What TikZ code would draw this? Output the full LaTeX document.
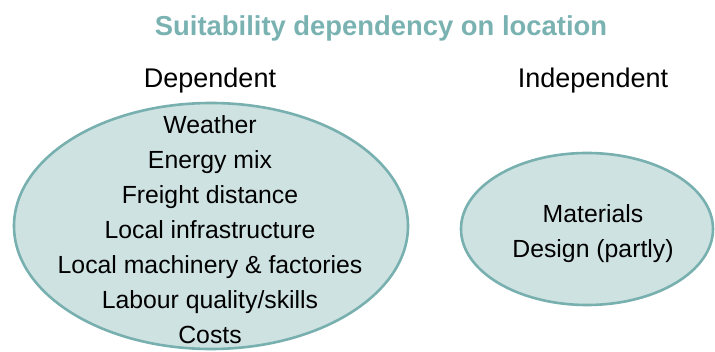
\documentclass[tikz,border=0pt]{standalone}
\usepackage{fontspec}
\setmainfont{Liberation Sans}
\definecolor{tealtitle}{RGB}{122,178,178}
\definecolor{tealedge}{RGB}{120,176,176}
\definecolor{tealfill}{RGB}{207,226,226}
\begin{document}
\begin{tikzpicture}[x=1pt,y=-1pt,
  blob/.style={draw=tealedge,fill=tealfill,line width=2.6pt},
  item/.style={font=\fontsize{24.8}{28}\selectfont,text=black,anchor=base,inner sep=0pt},
  head/.style={font=\fontsize{27}{30}\selectfont,text=black,anchor=base,inner sep=0pt}]
\useasboundingbox (0,0) rectangle (715,352);
% title
\node[font=\bfseries\fontsize{27.4}{30}\selectfont,text=tealtitle,anchor=base,inner sep=0pt] (title) at (381,36) {Suitability dependency on location};
% column headings
\node[head] (dep) at (210,87.5) {Dependent};
\node[head] (indep) at (593,87.5) {Independent};
% ellipses
\path[blob] (211,226) ellipse [x radius=197, y radius=123];
\path[blob] (587,229) ellipse [x radius=126, y radius=76];
% dependent factors
\node[item] (w) at (210,133.5) {Weather};
\node[item] (e) at (210,168.5) {Energy mix};
\node[item] (f) at (210,203.5) {Freight distance};
\node[item] (li) at (210,238.5) {Local infrastructure};
\node[item] (lm) at (210,273.5) {Local machinery \& factories};
\node[item] (lq) at (210,308.5) {Labour quality/skills};
\node[item] (c) at (210,343.5) {Costs};
% independent factors
\node[item] (m) at (593,222.3) {Materials};
\node[item] (d) at (593,257.3) {Design (partly)};
\end{tikzpicture}
\end{document}
